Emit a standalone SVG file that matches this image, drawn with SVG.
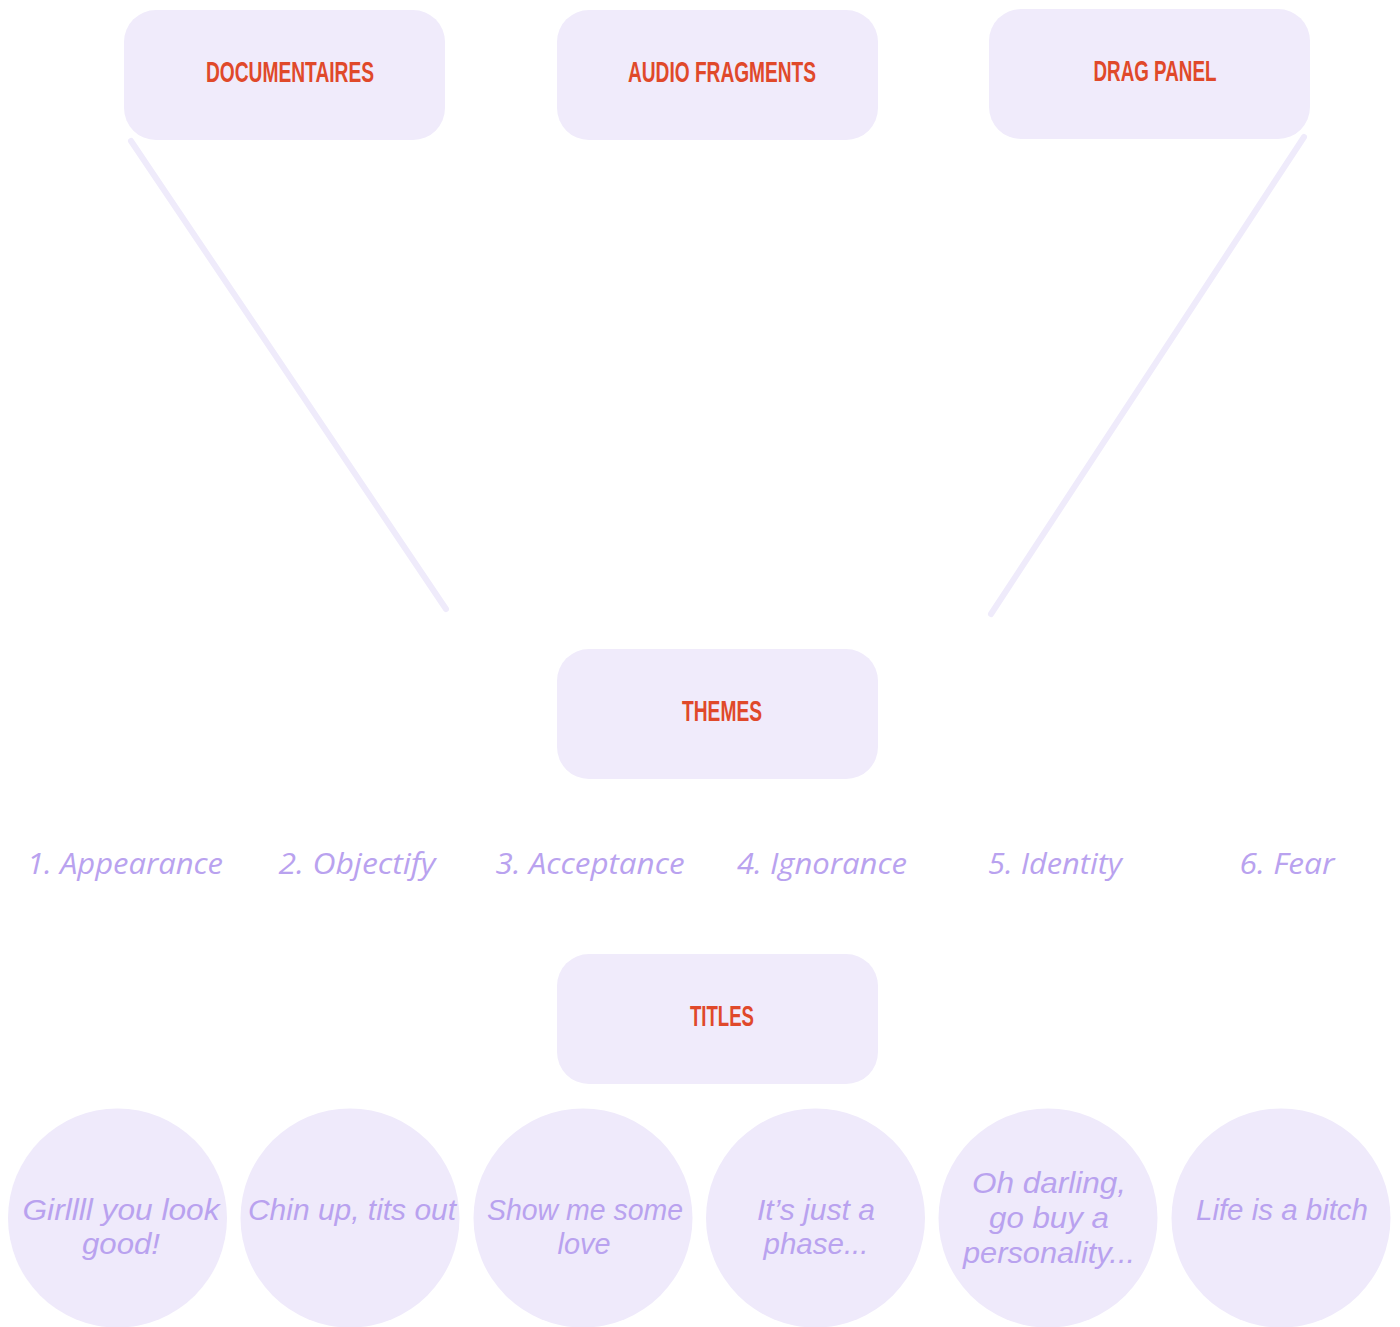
<svg xmlns="http://www.w3.org/2000/svg" width="1400" height="1327" viewBox="0 0 1400 1327">
<style>
.box{fill:#f0ebfb}
.circ{fill:#efeafb}
.h{font-family:"Liberation Sans",Arial,sans-serif;font-weight:bold;font-size:30px;fill:#e0492a;text-anchor:middle}
.t{font-family:"Open Sans","Noto Sans",sans-serif;font-style:italic;font-size:29px;fill:#b9a2ef;text-anchor:middle}
.c{font-family:"Liberation Sans",Arial,sans-serif;font-style:italic;font-size:29px;fill:#b9a2ef;text-anchor:middle}
.ln{stroke:#efebfb;stroke-width:6;stroke-linecap:round;fill:none}
</style>
<rect width="1400" height="1327" fill="#ffffff"/>
<g id="connectors">
<line class="ln" x1="131" y1="141" x2="446" y2="609"/>
<line class="ln" x1="1304" y1="137" x2="991" y2="614"/>
</g>
<g id="documentaires"><rect class="box" x="124" y="10" width="321" height="130" rx="32"/><text class="h" x="290" y="82" textLength="168" lengthAdjust="spacingAndGlyphs">DOCUMENTAIRES</text></g>
<g id="audio-fragments"><rect class="box" x="557" y="10" width="321" height="130" rx="32"/><text class="h" x="722" y="82" textLength="188" lengthAdjust="spacingAndGlyphs">AUDIO FRAGMENTS</text></g>
<g id="drag-panel"><rect class="box" x="989" y="9" width="321" height="130" rx="32"/><text class="h" x="1155" y="81" textLength="123" lengthAdjust="spacingAndGlyphs">DRAG PANEL</text></g>
<g id="themes"><rect class="box" x="557" y="649" width="321" height="130" rx="32"/><text class="h" x="722" y="721" textLength="80" lengthAdjust="spacingAndGlyphs">THEMES</text></g>
<g id="titles"><rect class="box" x="557" y="954" width="321" height="130" rx="32"/><text class="h" x="722" y="1026" textLength="64" lengthAdjust="spacingAndGlyphs">TITLES</text></g>
<g id="theme-1"><text class="t" x="125" y="874" textLength="196" lengthAdjust="spacingAndGlyphs">1. Appearance</text></g>
<g id="theme-2"><text class="t" x="357" y="874" textLength="157" lengthAdjust="spacingAndGlyphs">2. Objectify</text></g>
<g id="theme-3"><text class="t" x="590" y="874" textLength="189" lengthAdjust="spacingAndGlyphs">3. Acceptance</text></g>
<g id="theme-4"><text class="t" x="822" y="874" textLength="170" lengthAdjust="spacingAndGlyphs">4. Ignorance</text></g>
<g id="theme-5"><text class="t" x="1055" y="874" textLength="134" lengthAdjust="spacingAndGlyphs">5. Identity</text></g>
<g id="theme-6"><text class="t" x="1287" y="874" textLength="95" lengthAdjust="spacingAndGlyphs">6. Fear</text></g>
<g id="title-1"><circle class="circ" cx="117.5" cy="1218" r="109.5"/><text class="c" x="121" y="1220" textLength="197" lengthAdjust="spacingAndGlyphs">Girllll you look</text><text class="c" x="121" y="1254" textLength="78" lengthAdjust="spacingAndGlyphs">good!</text></g>
<g id="title-2"><circle class="circ" cx="350" cy="1218" r="109.5"/><text class="c" x="352" y="1220" textLength="208" lengthAdjust="spacingAndGlyphs">Chin up, tits out</text></g>
<g id="title-3"><circle class="circ" cx="583" cy="1218" r="109.5"/><text class="c" x="585" y="1220" textLength="196" lengthAdjust="spacingAndGlyphs">Show me some</text><text class="c" x="584" y="1254" textLength="53" lengthAdjust="spacingAndGlyphs">love</text></g>
<g id="title-4"><circle class="circ" cx="815.5" cy="1218" r="109.5"/><text class="c" x="816" y="1220" textLength="118" lengthAdjust="spacingAndGlyphs">It’s just a</text><text class="c" x="816" y="1254" textLength="105" lengthAdjust="spacingAndGlyphs">phase...</text></g>
<g id="title-5"><circle class="circ" cx="1048" cy="1218" r="109.5"/><text class="c" x="1049" y="1193" textLength="154" lengthAdjust="spacingAndGlyphs">Oh darling,</text><text class="c" x="1049" y="1228" textLength="120" lengthAdjust="spacingAndGlyphs">go buy a</text><text class="c" x="1049" y="1263" textLength="172" lengthAdjust="spacingAndGlyphs">personality...</text></g>
<g id="title-6"><circle class="circ" cx="1281" cy="1218" r="109.5"/><text class="c" x="1282" y="1220" textLength="172" lengthAdjust="spacingAndGlyphs">Life is a bitch</text></g>
</svg>
